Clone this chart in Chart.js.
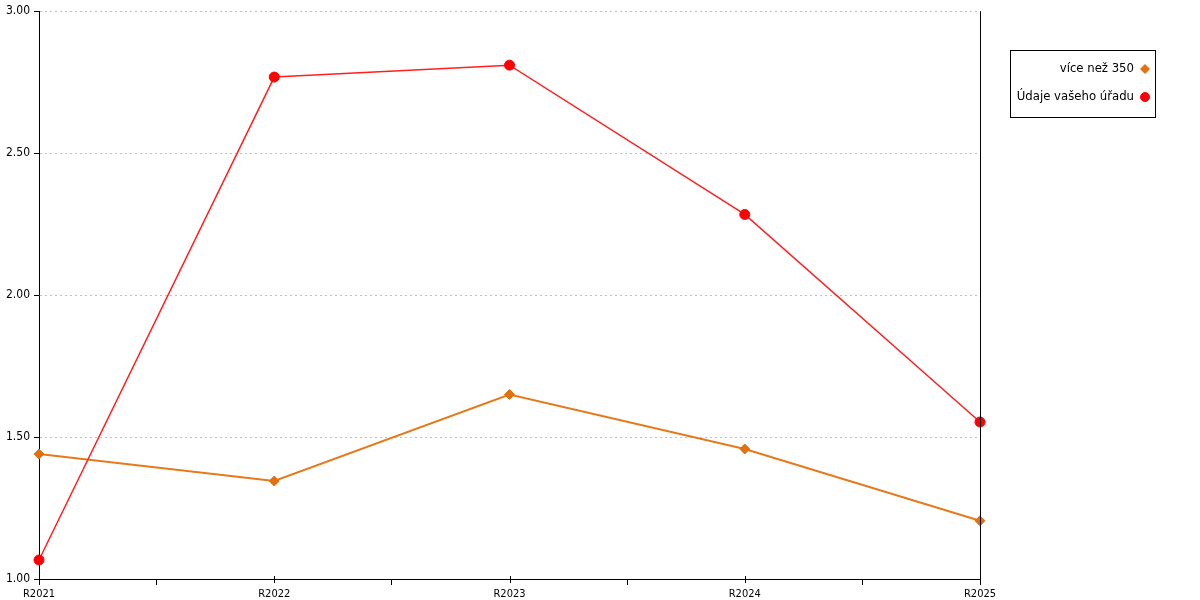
<!DOCTYPE html>
<html>
<head>
<meta charset="utf-8">
<script src="https://cdn.jsdelivr.net/npm/chart.js@4/dist/chart.umd.min.js"></script>
<style>
  html, body { margin: 0; padding: 0; background: #fff; }
  #wrap { width: 1200px; height: 600px; }
</style>
</head>
<body>
<div id="wrap"><canvas id="lineCanvas" width="1200" height="600"></canvas></div>
<script>
var years = ["R2021", "R2022", "R2023", "R2024", "R2025"];
var nad350 = [1.44, 1.345, 1.65, 1.458, 1.205];
var vasUrad = [1.067, 2.768, 2.81, 2.284, 1.553];
var seriesNames = ["více než 350", "Údaje vašeho úřadu"];
var yTicks = [1.0, 1.5, 2.0, 2.5, 3.0];

var FONT = "'DejaVu Sans Condensed', 'DejaVu Sans', sans-serif";

// extra axis bits + legend box on the right
var extras = {
    id: 'extras',
    afterDraw: function(chart) {
        var ctx = chart.ctx;
        var a = chart.chartArea;
        var xs = chart.scales.x;
        ctx.save();
        ctx.strokeStyle = '#000';
        ctx.lineWidth = 1;
        ctx.beginPath();
        // right border line
        ctx.moveTo(Math.round(a.right) + 0.5, a.top);
        ctx.lineTo(Math.round(a.right) + 0.5, a.bottom + 6);
        // left axis goes down a bit
        ctx.moveTo(Math.round(a.left) + 0.5, a.bottom);
        ctx.lineTo(Math.round(a.left) + 0.5, a.bottom + 6);
        // small cross ticks at categories
        for (var i = 1; i < years.length - 1; i++) {
            var px = Math.round(xs.getPixelForTick(i)) + 0.5;
            ctx.moveTo(px, a.bottom - 3);
            ctx.lineTo(px, a.bottom + 4);
        }
        ctx.stroke();

        // legend
        var bx = 1010.5, by = 50.5, bw = 145, bh = 67;
        ctx.strokeRect(bx, by, bw, bh);
        ctx.font = "13px " + FONT;
        ctx.textAlign = 'right';
        ctx.textBaseline = 'middle';
        var ds = chart.data.datasets;
        for (var j = 0; j < ds.length; j++) {
            var ly = 69 + j * 28;
            ctx.fillStyle = '#000';
            ctx.fillText(ds[j].label, 1134, ly);
            ctx.fillStyle = ds[j].pointBackgroundColor;
            ctx.strokeStyle = ds[j].pointBorderColor;
            ctx.lineWidth = 1;
            Chart.helpers.drawPoint(ctx, {pointStyle: ds[j].pointStyle, radius: 4.5, rotation: 0, borderWidth: 1}, 1145, ly);
        }
        ctx.restore();
    }
};

var ctx1 = document.getElementById("lineCanvas").getContext("2d");
window.myLine = new Chart(ctx1, {
    type: 'line',
    data: {
        labels: years,
        datasets: [{
            label: seriesNames[0],
            data: nad350,
            borderColor: '#e47a1c',
            backgroundColor: '#e07010',
            pointBackgroundColor: '#e07010',
            pointBorderColor: '#e07010',
            pointStyle: 'rectRot',
            pointRadius: 5,
            pointBorderWidth: 1,
            borderWidth: 2,
            tension: 0,
            order: 1
        }, {
            label: seriesNames[1],
            data: vasUrad,
            borderColor: '#ff2020',
            backgroundColor: '#ff0000',
            pointBackgroundColor: '#ff0000',
            pointBorderColor: '#ff0000',
            pointStyle: 'circle',
            pointRadius: 5,
            pointBorderWidth: 1,
            borderWidth: 1.5,
            tension: 0,
            order: 0
        }]
    },
    options: {
        responsive: false,
        animation: false,
        layout: { padding: { top: 10, right: 220, left: 0, bottom: 0 } },
        plugins: {
            legend: { display: false },
            tooltip: { enabled: false }
        },
        scales: {
            x: {
                offset: false,
                grid: {
                    offset: true,
                    drawOnChartArea: false,
                    tickLength: 6,
                    tickColor: '#000'
                },
                border: { color: '#000', width: 1 },
                ticks: {
                    color: '#000',
                    padding: 3,
                    maxRotation: 0,
                    autoSkip: false,
                    font: { family: FONT, size: 11 }
                },
                afterFit: function(scale) { scale.height = 21; }
            },
            y: {
                min: 1,
                max: 3,
                afterBuildTicks: function(scale) {
                    scale.ticks = yTicks.map(function(v) { return {value: v}; });
                },
                grid: {
                    color: '#c0c0c0',
                    tickColor: '#000',
                    tickLength: 5,
                    lineWidth: 1
                },
                border: { color: '#000', width: 1, dash: [2, 3] },
                ticks: {
                    color: '#000',
                    padding: 4,
                    font: { family: FONT, size: 12 },
                    callback: function(v) { return Number(v).toFixed(2); }
                },
                afterFit: function(scale) { scale.width = 39; }
            }
        }
    },
    plugins: [extras]
});
</script>
</body>
</html>
